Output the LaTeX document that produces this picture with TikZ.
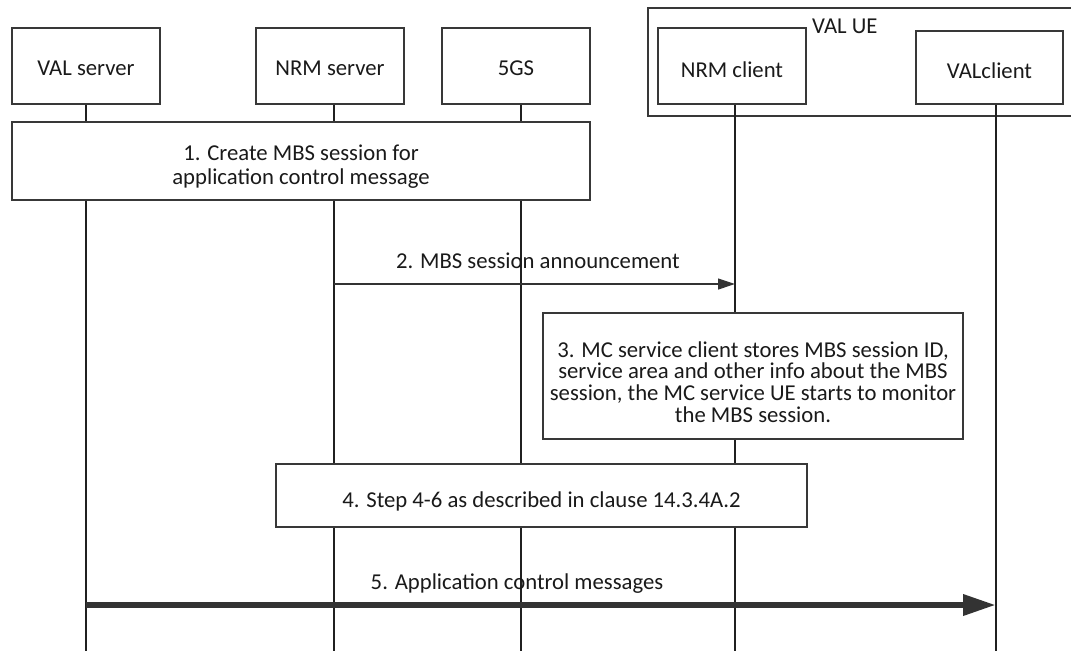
\documentclass[tikz,border=0pt]{standalone}
\usepackage{fontspec}
\setmainfont{Carlito}
\usetikzlibrary{arrows.meta}
\definecolor{boxc}{HTML}{383838}
\definecolor{linec}{HTML}{202020}
\definecolor{txtc}{HTML}{1A1A1A}
\definecolor{arrc}{HTML}{333333}
\begin{document}
\begin{tikzpicture}[x=1pt,y=-1pt,
  box/.style={draw=boxc, line width=1.6pt, fill=white, inner sep=0pt},
  lbl/.style={inner sep=0pt, text=txtc, align=center, font=\fontsize{22.7}{21.7}\selectfont},
  lifeline/.style={draw=linec, line width=1.3pt},
  msg/.style={draw=arrc, line width=1.2pt, -{Triangle[length=17pt,width=11pt]}},
  bigmsg/.style={draw=arrc, line width=6.5pt, -{Triangle[length=33pt,width=20pt]}}]
\fill[white] (0,0) rectangle (1071,651);
\useasboundingbox (0,0) rectangle (1071,651);
% VAL UE container
\node[draw=boxc, line width=1.6pt, inner sep=0pt, minimum width=426pt, minimum height=108pt] (vue) at (861,62) {};
\node[lbl, anchor=west] (vuel) at (812,26) {VAL UE};
% header boxes
\node[box, minimum width=148pt, minimum height=76pt] (vals) at (86,66) {};
\node[lbl] (valst) at (86,68) {VAL server};
\node[box, minimum width=148pt, minimum height=76pt] (nrms) at (330,66) {};
\node[lbl] (nrmst) at (330,68) {NRM server};
\node[box, minimum width=148pt, minimum height=76pt] (g5) at (516,66) {};
\node[lbl] (g5t) at (516,68) {5GS};
\node[box, minimum width=148pt, minimum height=76pt] (nrmc) at (732,66) {};
\node[lbl] (nrmct) at (732,69.5) {NRM client};
\node[box, minimum width=147pt, minimum height=73pt] (valc) at (989.5,67.5) {};
\node[lbl] (valct) at (989.5,70.5) {VALclient};
% lifeline bottoms
\coordinate (Lvals) at (86,651);
\coordinate (Lnrms) at (334,651);
\coordinate (Lg5) at (521,651);
\coordinate (Lnrmc) at (735,651);
\coordinate (Lvalc) at (996,651);
\draw[lifeline] (Lvals |- vals.south) -- (Lvals);
\draw[lifeline] (Lnrms |- nrms.south) -- (Lnrms);
\draw[lifeline] (Lg5 |- g5.south) -- (Lg5);
\draw[lifeline] (Lnrmc |- nrmc.south) -- (Lnrmc);
\draw[lifeline] (Lvalc |- valc.south) -- (Lvalc);
% step boxes
\node[box, minimum width=578pt, minimum height=78pt] (s1) at (301,161) {};
\node[lbl, font=\fontsize{22.7}{24}\selectfont] (s1t) at ([yshift=-5.5pt]s1.center)
  {1. Create MBS session for\\application control message};
\node[box, minimum width=420pt, minimum height=126pt] (s3) at (753,376) {};
\node[lbl] (s3t) at ([yshift=-6pt]s3.center)
  {3. MC service client stores MBS session ID,\\service area and other info about the MBS\\session, the MC service UE starts to monitor\\the MBS session.};
\node[box, minimum width=531pt, minimum height=63pt] (s4) at (541.5,495.5) {};
\node[lbl] (s4t) at ([yshift=-6pt]s4.center) {4. Step 4-6 as described in clause 14.3.4A.2};
% messages
\coordinate (y2) at (0,284);
\draw[msg] (Lnrms |- y2) -- (Lnrmc |- y2);
\node[lbl] (l2) at (538,261) {2. MBS session announcement};
\coordinate (y5) at (0,605);
\draw[bigmsg] (Lvals |- y5) -- (Lvalc |- y5);
\node[lbl] (l5) at (517,584) {5. Application control messages};
\end{tikzpicture}
\end{document}
